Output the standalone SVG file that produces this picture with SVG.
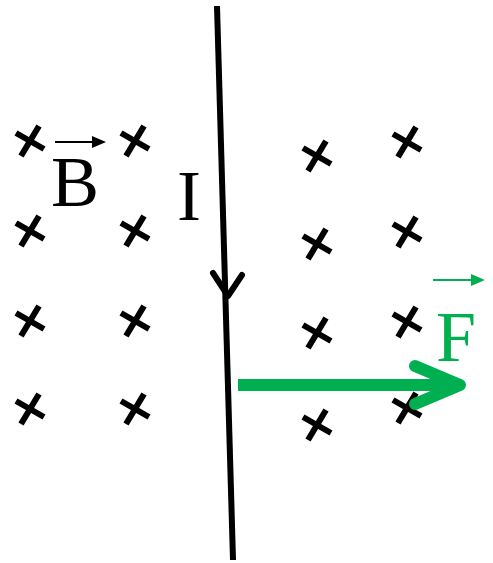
<svg xmlns="http://www.w3.org/2000/svg" width="493" height="563" viewBox="0 0 493 563">
<defs>
<style>
.x{stroke:#000;stroke-width:6;fill:none}
.wire{stroke:#000;stroke-width:6;fill:none}
.lbl{font-family:"Liberation Serif","Times New Roman",serif;font-size:72px}
</style>
<g id="cross"><path class="x" d="M-14,-8 L14,8 M9,-15 L-9,15"/></g>
</defs>
<rect width="493" height="563" fill="#fff"/>
<g id="field">
<use href="#cross" x="30" y="141"/>
<use href="#cross" x="30" y="231"/>
<use href="#cross" x="30" y="321"/>
<use href="#cross" x="30" y="409"/>
<use href="#cross" x="135" y="141"/>
<use href="#cross" x="135" y="231"/>
<use href="#cross" x="135" y="321"/>
<use href="#cross" x="135" y="409"/>
<use href="#cross" x="317" y="156"/>
<use href="#cross" x="317" y="244"/>
<use href="#cross" x="317" y="333"/>
<use href="#cross" x="317" y="425"/>
<use href="#cross" x="407" y="142"/>
<use href="#cross" x="407" y="232"/>
<use href="#cross" x="407" y="322"/>
<use href="#cross" x="407" y="408"/>
</g>
<g id="connectors">
<g id="wire">
<path class="wire" d="M217,6 L233,560"/>
<path class="wire" d="M213,273 L228,296 L242,275" stroke-linecap="round" stroke-linejoin="round"/>
</g>
<g id="force">
<path d="M238,385 L458,385" stroke="#00b050" stroke-width="12" fill="none"/>
<path d="M415,366 L460,385 L415,404" stroke="#00b050" stroke-width="12" fill="none" stroke-linecap="round" stroke-linejoin="round"/>
</g>
</g>
<g id="labelB">
<text class="lbl" x="51" y="206">B</text>
<path d="M55,142 L93,142" stroke="#000" stroke-width="2"/>
<path d="M92,136 L106,142 L92,148 Z" fill="#000"/>
</g>
<g id="labelI">
<text class="lbl" x="177" y="220">I</text>
</g>
<g id="labelF">
<text class="lbl" x="436" y="361" fill="#00b050">F</text>
<path d="M433,280 L472,280" stroke="#00b050" stroke-width="2"/>
<path d="M471,274 L485,280 L471,286 Z" fill="#00b050"/>
</g>
</svg>
